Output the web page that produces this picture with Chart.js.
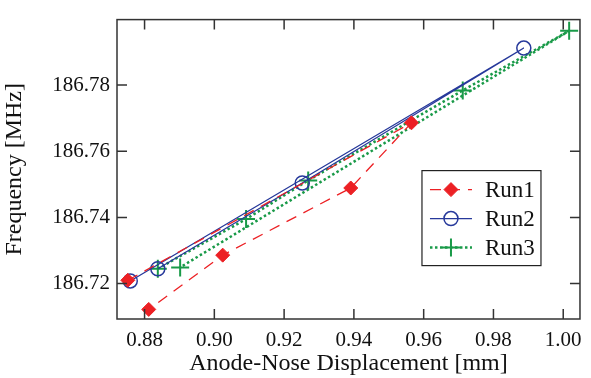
<!DOCTYPE html>
<html>
<head>
  <meta charset="utf-8">
  <title>Frequency vs Anode-Nose Displacement</title>
  <script src="https://cdn.jsdelivr.net/npm/chart.js"></script>
  <style>
    body { margin: 0; background: #fff; }
    #wrap { width: 591px; height: 378px; }
  </style>
</head>
<body>
  <div id="wrap"><canvas id="chart"></canvas></div>
  <script>
    // values (points in drawing order)
    const run1X = [0.8752, 0.9565, 0.9391, 0.9024, 0.8812];
    const run1Y = [186.7210, 186.7686, 186.7489, 186.7286, 186.7122];
    const run2X = [0.8759, 0.9887, 0.9252, 0.8838];
    const run2Y = [186.7208, 186.7912, 186.7504, 186.7245];
    const run3X = [0.8838, 0.9091, 0.9269, 0.9712, 1.0017, 0.8902];
    const run3Y = [186.7245, 186.7395, 186.7512, 186.7784, 186.7964, 186.7249];
    const xTicks = [0.88, 0.90, 0.92, 0.94, 0.96, 0.98, 1.00];
    const yTicks = [186.72, 186.74, 186.76, 186.78];

    const FONT = 'Liberation Serif';
    const pts = (xs, ys) => xs.map((x, i) => ({ x: x, y: ys[i] }));

    // ticks pointing inward on all four sides + full frame
    const frame = {
      id: 'frame',
      afterDraw(chart) {
        const { ctx, chartArea: a, scales } = chart;
        ctx.save();
        ctx.strokeStyle = '#333';
        ctx.lineWidth = 1.5;
        ctx.strokeRect(a.left, a.top, a.right - a.left, a.bottom - a.top);
        const len = 10;
        ctx.beginPath();
        xTicks.forEach(v => {
          const p = scales.x.getPixelForValue(v);
          ctx.moveTo(p, a.bottom); ctx.lineTo(p, a.bottom - len);
          ctx.moveTo(p, a.top); ctx.lineTo(p, a.top + len);
        });
        yTicks.forEach(v => {
          const p = scales.y.getPixelForValue(v);
          ctx.moveTo(a.left, p); ctx.lineTo(a.left + len, p);
          ctx.moveTo(a.right, p); ctx.lineTo(a.right - len, p);
        });
        ctx.stroke();
        ctx.restore();
      }
    };

    // boxed legend inside the plot, line sample with marker in the middle
    const boxLegend = {
      id: 'boxLegend',
      afterDraw(chart) {
        const { ctx, chartArea: a } = chart;
        const w = 119, h = 95;
        const bx = a.right - 39 - w, by = a.top + 151;
        ctx.save();
        ctx.fillStyle = '#fff';
        ctx.fillRect(bx, by, w, h);
        ctx.strokeStyle = '#222';
        ctx.lineWidth = 1.2;
        ctx.strokeRect(bx, by, w, h);
        chart.data.datasets.forEach((ds, i) => {
          const cy = by + 19 + i * 29;
          const x0 = bx + 8, x1 = bx + 50;
          ctx.strokeStyle = ds.borderColor;
          ctx.lineWidth = ds.borderWidth;
          ctx.setLineDash(ds.borderDash || []);
          ctx.beginPath();
          ctx.moveTo(x0, cy); ctx.lineTo(x1, cy);
          ctx.stroke();
          ctx.setLineDash([]);
          ctx.fillStyle = ds.pointBackgroundColor;
          ctx.strokeStyle = ds.pointBorderColor;
          ctx.lineWidth = ds.pointBorderWidth;
          Chart.helpers.drawPoint(ctx, {
            pointStyle: ds.pointStyle,
            radius: ds.pointRadius,
            borderWidth: ds.pointBorderWidth
          }, (x0 + x1) / 2, cy);
          ctx.fillStyle = '#111';
          ctx.font = '23px "' + FONT + '"';
          ctx.textBaseline = 'middle';
          ctx.fillText(ds.label, bx + 63, cy + 1);
        });
        ctx.restore();
      }
    };

    const series = [
      { label: 'Run1', data: pts(run1X, run1Y), borderColor: '#ec2024', backgroundColor: '#ec2024',
        borderWidth: 1.3, borderDash: [11, 8], pointStyle: 'rectRot', pointRadius: 7, pointBorderWidth: 1 },
      { label: 'Run2', data: pts(run2X, run2Y), borderColor: '#27399b', backgroundColor: 'rgba(0,0,0,0)',
        borderWidth: 1.3, pointStyle: 'circle', pointRadius: 7, pointBorderWidth: 1.5 },
      { label: 'Run3', data: pts(run3X, run3Y), borderColor: '#199a48', backgroundColor: '#199a48',
        borderWidth: 2.5, borderDash: [2.5, 2.5], pointStyle: 'cross', pointRadius: 9, pointBorderWidth: 2 }
    ];

    Chart.defaults.font.family = FONT;
    Chart.defaults.color = '#111';

    new Chart(document.getElementById('chart'), {
      type: 'scatter',
      data: {
        datasets: series.map(s => Object.assign({ showLine: true, fill: false, tension: 0,
          pointBackgroundColor: s.backgroundColor, pointBorderColor: s.borderColor }, s))
      },
      options: {
        responsive: true,
        maintainAspectRatio: false,
        animation: false,
        layout: { padding: { top: 10, right: 10, left: 0, bottom: 0 } },
        plugins: { legend: { display: false }, tooltip: { enabled: false } },
        scales: {
          x: {
            type: 'linear', min: 0.8721, max: 1.0048,
            afterBuildTicks: s => { s.ticks = xTicks.map(v => ({ value: v })); },
            afterFit: s => { s.height = 59; },
            grid: { display: false, drawTicks: false },
            border: { display: false },
            ticks: { padding: 9, font: { size: 21 }, callback: v => v.toFixed(2) },
            title: { display: true, text: 'Anode-Nose Displacement [mm]', font: { size: 24 }, padding: { top: 0, bottom: 0 } }
          },
          y: {
            type: 'linear', min: 186.7093, max: 186.7998,
            afterBuildTicks: s => { s.ticks = yTicks.map(v => ({ value: v })); },
            afterFit: s => { s.width = 117; },
            grid: { display: false, drawTicks: false },
            border: { display: false },
            ticks: { padding: 7, font: { size: 21 }, callback: v => v.toFixed(2) },
            title: { display: true, text: 'Frequency [MHz]', font: { size: 24 }, padding: { top: 0, bottom: 2 } }
          }
        }
      },
      plugins: [frame, boxLegend]
    });
  </script>
</body>
</html>
